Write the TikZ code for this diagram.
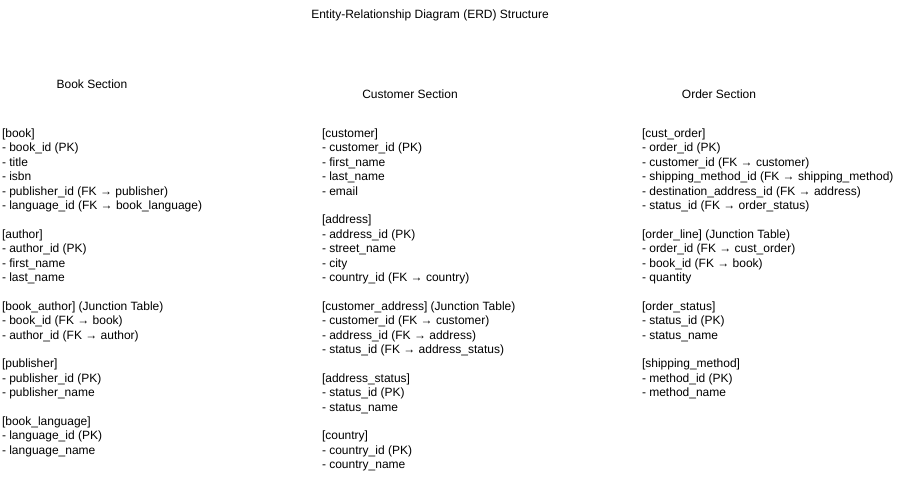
\documentclass[tikz,border=0pt]{standalone}
\usepackage{fontspec}
\setmainfont{Liberation Sans}
\newcommand{\fl}{\rule{0pt}{10pt}}
\begin{document}
\begin{tikzpicture}[x=1pt,y=-1pt,
  txt/.style={inner sep=0pt,outer sep=0pt,font=\fontsize{12}{14.4}\selectfont},
  tbl/.style={txt,anchor=north west,align=left},
  head/.style={txt,anchor=base}]
\useasboundingbox[fill=white] (0,0) rectangle (920,490);
\node[head] (title) at (430,18.5) {Entity-Relationship Diagram (ERD) Structure};
\node[head] (bookh) at (92,88.5) {Book Section};
\node[head] (custh) at (410,98.5) {Customer Section};
\node[head] (ordh) at (719,98.5) {Order Section};
% Book section
\node[tbl] (book) at (2,127.5) {\fl[book]\\- book\_id (PK)\\- title\\- isbn\\- publisher\_id (FK → publisher)\\- language\_id (FK → book\_language)};
\node[tbl] (author) at (2,228.3) {\fl[author]\\- author\_id (PK)\\- first\_name\\- last\_name};
\node[tbl] (bookauthor) at (2,300.3) {\fl[book\_author] (Junction Table)\\- book\_id (FK → book)\\- author\_id (FK → author)};
\node[tbl] (publisher) at (2,357.9) {\fl[publisher]\\- publisher\_id (PK)\\- publisher\_name};
\node[tbl] (booklang) at (2,415.5) {\fl[book\_language]\\- language\_id (PK)\\- language\_name};
% Customer section
\node[tbl] (customer) at (322,127.5) {\fl[customer]\\- customer\_id (PK)\\- first\_name\\- last\_name\\- email};
\node[tbl] (address) at (322,213.9) {\fl[address]\\- address\_id (PK)\\- street\_name\\- city\\- country\_id (FK → country)};
\node[tbl] (custaddr) at (322,300.3) {\fl[customer\_address] (Junction Table)\\- customer\_id (FK → customer)\\- address\_id (FK → address)\\- status\_id (FK → address\_status)};
\node[tbl] (addrstatus) at (322,372.3) {\fl[address\_status]\\- status\_id (PK)\\- status\_name};
\node[tbl] (country) at (322,429.9) {\fl[country]\\- country\_id (PK)\\- country\_name};
% Order section
\node[tbl] (custorder) at (642,127.5) {\fl[cust\_order]\\- order\_id (PK)\\- customer\_id (FK → customer)\\- shipping\_method\_id (FK → shipping\_method)\\- destination\_address\_id (FK → address)\\- status\_id (FK → order\_status)};
\node[tbl] (orderline) at (642,228.3) {\fl[order\_line] (Junction Table)\\- order\_id (FK → cust\_order)\\- book\_id (FK → book)\\- quantity};
\node[tbl] (orderstatus) at (642,300.3) {\fl[order\_status]\\- status\_id (PK)\\- status\_name};
\node[tbl] (shipmethod) at (642,357.9) {\fl[shipping\_method]\\- method\_id (PK)\\- method\_name};
\end{tikzpicture}
\end{document}
